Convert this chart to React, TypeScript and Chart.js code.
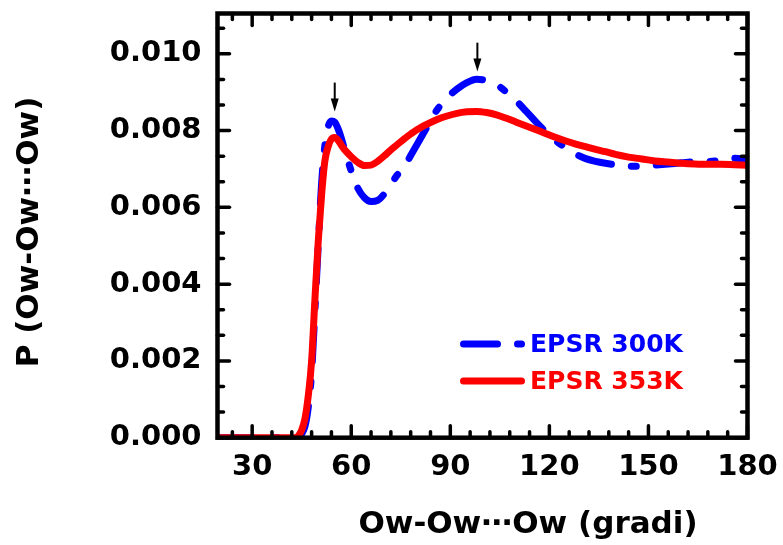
import React, { useEffect, useRef } from "react";
import { Chart, registerables } from "chart.js";

Chart.register(...registerables);

// ---- data ----
const angles = [20, 30, 40, 43, 44, 45, 46, 47, 48, 49, 50, 51, 52, 53, 54, 55, 56, 57, 58, 60, 62, 64, 66, 68, 70, 72, 74, 76, 78, 80, 83, 86, 89, 92, 95, 98, 101, 104, 107, 110, 113, 116, 119, 122, 125, 128, 131, 134, 137, 140, 144, 148, 152, 156, 160, 164, 168, 172, 176, 180];

const p300K = [0, 0, 0, 0, 0, 0.0001, 0.0003, 0.0008, 0.0017, 0.0033, 0.005, 0.0066, 0.0076, 0.0081, 0.00825, 0.00822, 0.00805, 0.0078, 0.0075, 0.00695, 0.0065, 0.00625, 0.00615, 0.00618, 0.00635, 0.0066, 0.00685, 0.00705, 0.00735, 0.00765, 0.0081, 0.00854, 0.00885, 0.00908, 0.00925, 0.00934, 0.0093, 0.0092, 0.009, 0.00877, 0.0085, 0.00822, 0.00796, 0.00773, 0.00755, 0.00739, 0.00727, 0.0072, 0.00715, 0.00711, 0.00707, 0.00707, 0.0071, 0.00713, 0.00716, 0.00719, 0.00719, 0.00723, 0.00728, 0.00724];

const p353K = [0, 0, 0, 0, 0.00005, 0.0002, 0.0005, 0.0011, 0.002, 0.0036, 0.0051, 0.0063, 0.0072, 0.00758, 0.00778, 0.00782, 0.00775, 0.00762, 0.0075, 0.00732, 0.00717, 0.00709, 0.0071, 0.0072, 0.00734, 0.0075, 0.00764, 0.00778, 0.00791, 0.00803, 0.00817, 0.00829, 0.00838, 0.00845, 0.00849, 0.0085, 0.00847, 0.00841, 0.00832, 0.00822, 0.00812, 0.00802, 0.00792, 0.00782, 0.00773, 0.00765, 0.00758, 0.00751, 0.00745, 0.00738, 0.00731, 0.00726, 0.00721, 0.00718, 0.00715, 0.00713, 0.00712, 0.00712, 0.00711, 0.0071];

const seriesLabels = ["EPSR 300K", "EPSR 353K"];
const xTickValues = [30, 60, 90, 120, 150, 180];
const yTickValues = [0, 0.002, 0.004, 0.006, 0.008, 0.01];
const xMinorStep = 6;
const yMinorStep = 0.002 / 3;
const xRange = [19.5, 180];
const yRange = [0, 0.01105];
const xTitle = "Ow-Ow⋯Ow (gradi)";
const yTitle = "P (Ow-Ow⋯Ow)";
const arrowAngles = [55, 98.2];
const arrowTips = [0.0085, 0.00954];
const arrowTails = [0.00925, 0.01029];

const FONT = '"DejaVu Sans", Verdana, sans-serif';
const BLUE = "#0000ff";
const RED = "#ff0000";
const BLUE_DASH = [34, 20, 5, 20];

const decorPlugin = {
  id: "decor",
  afterDatasetsDraw(chart: any) {
    const { ctx, chartArea: a, scales } = chart;
    const x = scales.x;
    const y = scales.y;
    ctx.save();
    const seg = (x1: number, y1: number, x2: number, y2: number) => {
      ctx.beginPath();
      ctx.moveTo(x1, y1);
      ctx.lineTo(x2, y2);
      ctx.stroke();
    };
    // frame
    ctx.strokeStyle = "#000";
    ctx.lineWidth = 4.5;
    ctx.lineCap = "butt";
    ctx.strokeRect(a.left, a.top, a.right - a.left, a.bottom - a.top);

    // ticks (inward, mirrored)
    ctx.lineWidth = 3.5;
    ctx.lineCap = "round";
    const majL = 12;
    const minL = 6;
    const k0 = Math.ceil(xRange[0] / xMinorStep);
    const k1 = Math.floor(xRange[1] / xMinorStep + 1e-9);
    for (let k = k0; k <= k1; k++) {
      const v = k * xMinorStep;
      const px = x.getPixelForValue(v);
      const major = xTickValues.some((t) => Math.abs(t - v) < 1e-6);
      const L = major ? majL : minL;
      seg(px, a.bottom, px, a.bottom - L);
      seg(px, a.top, px, a.top + L);
    }
    const n = Math.floor(yRange[1] / yMinorStep + 1e-9);
    for (let k = 0; k <= n; k++) {
      const v = k * yMinorStep;
      const py = y.getPixelForValue(v);
      const L = k % 3 === 0 ? majL : minL;
      seg(a.left, py, a.left + L, py);
      seg(a.right, py, a.right - L, py);
    }

    // arrows
    ctx.lineWidth = 2;
    ctx.lineCap = "butt";
    ctx.fillStyle = "#000";
    arrowAngles.forEach((ang, i) => {
      const px = x.getPixelForValue(ang);
      const tip = y.getPixelForValue(arrowTips[i]);
      const tail = y.getPixelForValue(arrowTails[i]);
      seg(px, tail, px, tip - 8);
      ctx.beginPath();
      ctx.moveTo(px, tip);
      ctx.lineTo(px - 4, tip - 13);
      ctx.lineTo(px + 4, tip - 13);
      ctx.closePath();
      ctx.fill();
    });

    // legend
    const ds = chart.data.datasets;
    const lx0 = 460;
    const lx1 = 522;
    const rows = [344, 381];
    ds.forEach((d: any, i: number) => {
      const yy = rows[i];
      ctx.strokeStyle = d.borderColor;
      ctx.lineWidth = d.borderWidth;
      ctx.lineCap = "round";
      ctx.setLineDash(d.borderDash || []);
      seg(lx0 + 3.5, yy, lx1 - 0.5, yy);
      ctx.setLineDash([]);
      ctx.fillStyle = d.borderColor;
      ctx.font = `bold 25px ${FONT}`;
      ctx.textAlign = "left";
      ctx.textBaseline = "middle";
      ctx.fillText(d.label, 530, yy + 1);
    });

    // axis titles
    ctx.fillStyle = "#000";
    ctx.font = `bold 31px ${FONT}`;
    ctx.textAlign = "center";
    ctx.textBaseline = "middle";
    ctx.fillText(xTitle, 528, 525);
    ctx.translate(30, 232);
    ctx.rotate(-Math.PI / 2);
    ctx.fillText(yTitle, 0, 0);
    ctx.restore();
  },
};

const zeroPad = (s: any) => {
  s.paddingTop = 0;
  s.paddingBottom = 0;
  s.paddingLeft = 0;
  s.paddingRight = 0;
};

export default function App() {
  const ref = useRef<HTMLCanvasElement | null>(null);
  useEffect(() => {
    if (!ref.current) return;
    const chart = new Chart(ref.current, {
      type: "line",
      data: {
        datasets: [
          {
            label: seriesLabels[0],
            data: angles.map((a, i) => ({ x: a, y: p300K[i] })),
            borderColor: BLUE,
            borderWidth: 7,
            borderDash: BLUE_DASH,
            borderCapStyle: "round",
            pointRadius: 0,
            fill: false,
            cubicInterpolationMode: "monotone",
            order: 1,
          },
          {
            label: seriesLabels[1],
            data: angles.map((a, i) => ({ x: a, y: p353K[i] })),
            borderColor: RED,
            borderWidth: 7,
            borderCapStyle: "round",
            pointRadius: 0,
            fill: false,
            cubicInterpolationMode: "monotone",
            order: 0,
          },
        ],
      },
      options: {
        responsive: false,
        animation: false,
        events: [],
        layout: { padding: { top: 13.5, right: 35.5, left: 0, bottom: 0 } },
        plugins: { legend: { display: false }, tooltip: { enabled: false }, title: { display: false } },
        scales: {
          x: {
            type: "linear",
            min: xRange[0],
            max: xRange[1],
            grid: { display: false, drawTicks: false },
            border: { display: false },
            afterBuildTicks: (s: any) => {
              s.ticks = xTickValues.map((v) => ({ value: v }));
            },
            afterFit: (s: any) => {
              s.height = 107.3;
              zeroPad(s);
            },
            ticks: {
              color: "#000",
              font: { family: FONT, size: 29, weight: "bold" },
              padding: 12,
              maxRotation: 0,
              autoSkip: false,
              callback: (v: any) => String(v),
            },
          },
          y: {
            type: "linear",
            min: yRange[0],
            max: yRange[1],
            grid: { display: false, drawTicks: false },
            border: { display: false },
            afterBuildTicks: (s: any) => {
              s.ticks = yTickValues.map((v) => ({ value: v }));
            },
            afterFit: (s: any) => {
              s.width = 217.5;
              zeroPad(s);
            },
            ticks: {
              color: "#000",
              font: { family: FONT, size: 29, weight: "bold" },
              padding: 16,
              autoSkip: false,
              callback: (v: any) => Number(v).toFixed(3),
            },
          },
        },
      },
      plugins: [decorPlugin],
    } as any);
    return () => chart.destroy();
  }, []);
  return (
    <div style={{ position: "absolute", left: 0, top: 0, width: 783, height: 545, background: "#fff" }}>
      <canvas ref={ref} width={783} height={545} style={{ width: 783, height: 545, display: "block" }} />
    </div>
  );
}
